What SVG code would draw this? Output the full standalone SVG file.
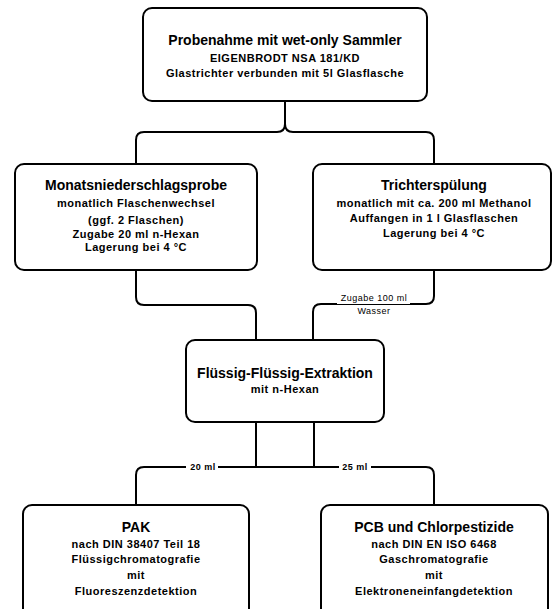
<svg xmlns="http://www.w3.org/2000/svg" width="553" height="609" viewBox="0 0 553 609">
<style>
.box{fill:#fff;stroke:#000;stroke-width:2}
.con{fill:none;stroke:#000;stroke-width:2}
text{font-family:"Liberation Sans",Arial,sans-serif;text-anchor:middle;fill:#000}
.t{font-size:14px;font-weight:bold}
.s{font-size:11px;font-weight:bold;letter-spacing:0.5px}
.l{font-size:9px;letter-spacing:0.5px}
.lb{font-size:9px;font-weight:bold;letter-spacing:0.5px}
</style>
<rect width="553" height="609" fill="#fff"/>
<g id="connectors">
<path class="con" d="M285,101 V124 Q285,132 277,132 H144 Q136,132 136,140 V164"/>
<path class="con" d="M285,101 V124 Q285,132 293,132 H426 Q434,132 434,140 V164"/>
<path class="con" d="M136,270 V297 Q136,305 144,305 H248 Q256,305 256,313 V340"/>
<path class="con" d="M434,270 V296 Q434,304 426,304 H321 Q313,304 313,312 V340"/>
<path class="con" d="M314,422 V467 H144 Q136,467 136,475 V505"/>
<path class="con" d="M256,422 V467 H426 Q434,467 434,475 V505"/>
<rect x="337" y="292" width="73" height="12" fill="#fff"/>
<text class="l" x="374" y="301">Zugabe 100 ml</text>
<text class="l" x="374" y="314">Wasser</text>
<rect x="186" y="461" width="32" height="12" fill="#fff"/>
<text class="lb" x="203" y="470">20 ml</text>
<rect x="339" y="461" width="32" height="12" fill="#fff"/>
<text class="lb" x="355" y="470">25 ml</text>
</g>
<g id="n1">
<rect class="box" x="143" y="8" width="284" height="93" rx="9"/>
<text class="t" x="285" y="45">Probenahme mit wet-only Sammler</text>
<text class="s" x="285" y="62">EIGENBRODT NSA 181/KD</text>
<text class="s" x="285" y="77">Glastrichter verbunden mit 5l Glasflasche</text>
</g>
<g id="n2">
<rect class="box" x="15" y="164" width="242" height="106" rx="9"/>
<text class="t" x="136" y="190">Monatsniederschlagsprobe</text>
<text class="s" x="136" y="207">monatlich Flaschenwechsel</text>
<text class="s" x="136" y="224">(ggf. 2 Flaschen)</text>
<text class="s" x="136" y="238">Zugabe 20 ml n-Hexan</text>
<text class="s" x="136" y="251">Lagerung bei 4 °C</text>
</g>
<g id="n3">
<rect class="box" x="313" y="164" width="238" height="106" rx="9"/>
<text class="t" x="434" y="190">Trichterspülung</text>
<text class="s" x="434" y="207">monatlich mit ca. 200 ml Methanol</text>
<text class="s" x="434" y="222">Auffangen in 1 l Glasflaschen</text>
<text class="s" x="434" y="237">Lagerung bei 4 °C</text>
</g>
<g id="n4">
<rect class="box" x="186" y="340" width="198" height="82" rx="9"/>
<text class="t" x="285" y="378">Flüssig-Flüssig-Extraktion</text>
<text class="s" x="285" y="393">mit n-Hexan</text>
</g>
<g id="n5">
<rect class="box" x="23" y="505" width="226" height="115" rx="9"/>
<text class="t" x="136" y="532">PAK</text>
<text class="s" x="136" y="548">nach DIN 38407 Teil 18</text>
<text class="s" x="136" y="563">Flüssigchromatografie</text>
<text class="s" x="136" y="579">mit</text>
<text class="s" x="136" y="595">Fluoreszenzdetektion</text>
</g>
<g id="n6">
<rect class="box" x="321" y="505" width="227" height="115" rx="9"/>
<text class="t" x="434" y="532">PCB und Chlorpestizide</text>
<text class="s" x="434" y="548">nach DIN EN ISO 6468</text>
<text class="s" x="434" y="563">Gaschromatografie</text>
<text class="s" x="434" y="579">mit</text>
<text class="s" x="434" y="595">Elektroneneinfangdetektion</text>
</g>
</svg>
